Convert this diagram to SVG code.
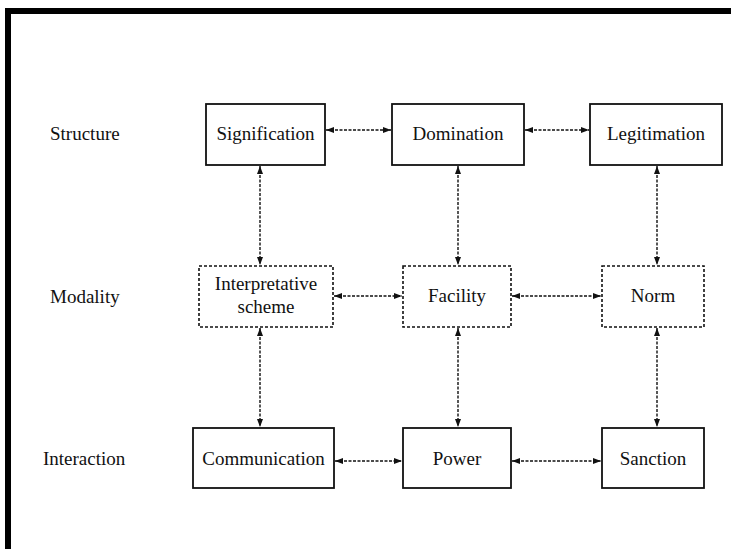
<svg xmlns="http://www.w3.org/2000/svg" width="731" height="549" viewBox="0 0 731 549">
<style>
text { font-family: "Liberation Serif", "Times New Roman", serif; font-size: 19px; fill: #111; }
.c { text-anchor: middle; }
.solid { fill: #fff; stroke: #111; stroke-width: 1.8; }
.dash { fill: #fff; stroke: #111; stroke-width: 1.6; stroke-dasharray: 3 2; }
.conn { stroke: #111; stroke-width: 1.4; stroke-dasharray: 3 1.5; fill: none; marker-start: url(#ah); marker-end: url(#ah); }
</style>
<defs>
<marker id="ah" viewBox="0 0 8 6" refX="8" refY="3" markerWidth="8" markerHeight="6" markerUnits="userSpaceOnUse" orient="auto-start-reverse">
<path d="M0,0 L8,3 L0,6 z" fill="#111"/>
</marker>
</defs>
<rect width="731" height="549" fill="#fff"/>
<g id="frame">
<rect x="5" y="8" width="726" height="6" fill="#000"/>
<rect x="5" y="8" width="6" height="541" fill="#000"/>
</g>
<g id="labels">
<text x="50" y="140">Structure</text>
<text x="50" y="303">Modality</text>
<text x="43" y="465">Interaction</text>
</g>
<g id="connectors">
<line class="conn" x1="326" y1="130" x2="391" y2="130"/>
<line class="conn" x1="525" y1="130" x2="589" y2="130"/>
<line class="conn" x1="334" y1="296" x2="402" y2="296"/>
<line class="conn" x1="512" y1="296" x2="601" y2="296"/>
<line class="conn" x1="335" y1="461" x2="402" y2="461"/>
<line class="conn" x1="512" y1="461" x2="601" y2="461"/>
<line class="conn" x1="260" y1="166" x2="260" y2="265"/>
<line class="conn" x1="458" y1="166" x2="458" y2="265"/>
<line class="conn" x1="657" y1="166" x2="657" y2="265"/>
<line class="conn" x1="260" y1="328" x2="260" y2="427"/>
<line class="conn" x1="458" y1="328" x2="458" y2="427"/>
<line class="conn" x1="657" y1="328" x2="657" y2="427"/>
</g>
<g id="signification"><rect class="solid" x="206" y="104" width="119" height="61"/><text class="c" x="265.5" y="140">Signification</text></g>
<g id="domination"><rect class="solid" x="392" y="104" width="132" height="61"/><text class="c" x="458" y="140">Domination</text></g>
<g id="legitimation"><rect class="solid" x="590" y="104" width="132" height="61"/><text class="c" x="656" y="140">Legitimation</text></g>
<g id="interpretative-scheme"><rect class="dash" x="199" y="266" width="134" height="61"/><text class="c" x="266" y="290">Interpretative</text><text class="c" x="266" y="313">scheme</text></g>
<g id="facility"><rect class="dash" x="403" y="266" width="108" height="61"/><text class="c" x="457" y="302">Facility</text></g>
<g id="norm"><rect class="dash" x="602" y="266" width="102" height="61"/><text class="c" x="653" y="302">Norm</text></g>
<g id="communication"><rect class="solid" x="193" y="428" width="141" height="60"/><text class="c" x="263.5" y="465">Communication</text></g>
<g id="power"><rect class="solid" x="403" y="428" width="108" height="60"/><text class="c" x="457" y="465">Power</text></g>
<g id="sanction"><rect class="solid" x="602" y="428" width="102" height="60"/><text class="c" x="653" y="465">Sanction</text></g>
</svg>
